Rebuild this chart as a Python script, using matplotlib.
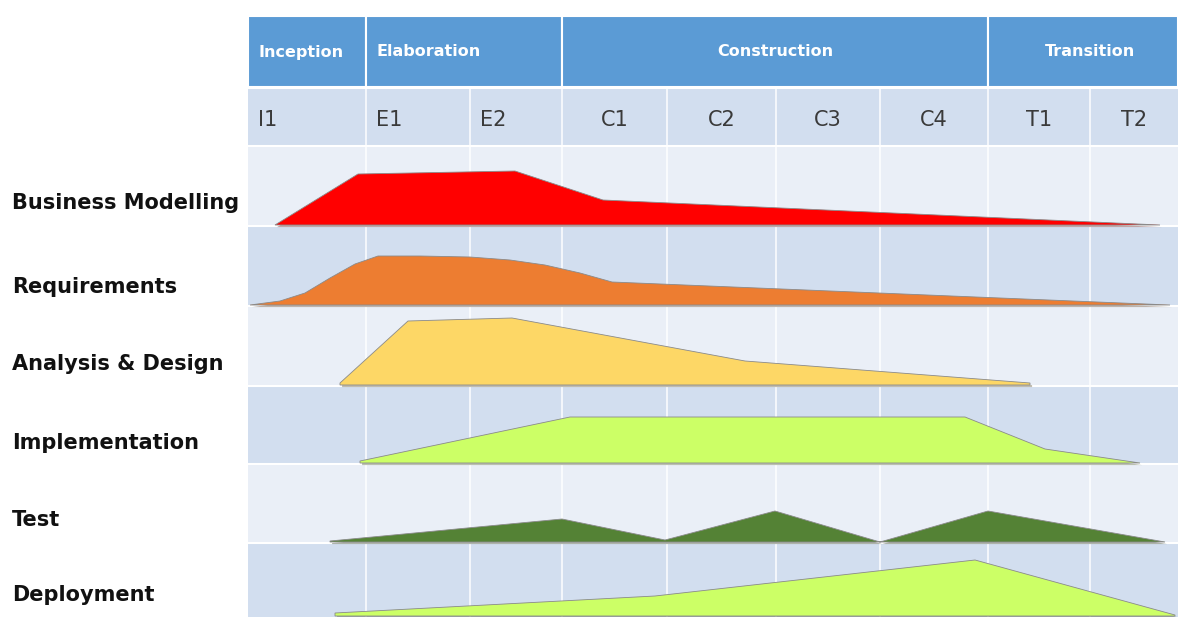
import matplotlib
matplotlib.use("Agg")
import matplotlib.pyplot as plt
from matplotlib.patches import Rectangle, Polygon
import matplotlib.patheffects as pe

# layout of the table, in picture pixels
col_edges = [248, 366, 470, 562, 667, 776, 880, 988, 1090, 1178]
iterations = ["I1", "E1", "E2", "C1", "C2", "C3", "C4", "T1", "T2"]
iter_align = ["left", "left", "left", "center", "center", "center", "center", "center", "center"]

phases = ["Inception", "Elaboration", "Construction", "Transition"]
phase_span = [(0, 1), (1, 3), (3, 7), (7, 9)]
phase_align = ["left", "left", "center", "center"]

workflows = ["Business Modelling", "Requirements", "Analysis & Design",
             "Implementation", "Test", "Deployment"]
row_edges = [146, 226, 306, 386, 464, 543, 617]
label_y = [203, 287, 364, 443, 520, 595]
colors = ["#FF0000", "#ED7D31", "#FDD766", "#CCFF66", "#548235", "#CCFF66"]

# effort profiles: x position and height above the row baseline
bm_x = [275, 358, 515, 603, 1160]
bm_h = [0, 51, 54, 25, 0]
req_x = [250, 280, 305, 330, 355, 378, 420, 470, 510, 545, 580, 612, 1170]
req_h = [0, 4, 12, 27, 41, 49, 49, 48, 45, 40, 32, 23, 0]
ad_x = [340, 408, 512, 745, 1030]
ad_h = [2, 64, 67, 24, 2]
imp_x = [360, 570, 965, 1045, 1140]
imp_h = [2, 46, 46, 14, 0]
test_x = [330, 562, 665, 775, 880, 988, 1165]
test_h = [1, 23, 2, 31, 0, 31, 0]
dep_x = [335, 655, 975, 1175]
dep_h = [3, 20, 56, 1]

profiles = [(bm_x, bm_h), (req_x, req_h), (ad_x, ad_h),
            (imp_x, imp_h), (test_x, test_h), (dep_x, dep_h)]

fig = plt.figure(figsize=(11.78, 6.17), dpi=100)
ax = fig.add_axes([0, 0, 1, 1])
ax.set_xlim(0, 1178)
ax.set_ylim(617, 0)
ax.axis("off")

dark = "#D2DEEF"
light = "#EAEFF7"
blue = "#5B9BD5"

# header with phases
for name, (a, b), al in zip(phases, phase_span, phase_align):
    x0, x1 = col_edges[a], col_edges[b]
    ax.add_patch(Rectangle((x0, 16), x1 - x0, 71, facecolor=blue, edgecolor="white", lw=1.5))
    if al == "left":
        tx = x0 + 10
    elif name == "Transition":
        tx = (x0 + x1) / 2 + 7
    else:
        tx = (x0 + x1) / 2
    ax.text(tx, 52, name, color="white", fontsize=11.5, fontweight="bold",
            ha=al, va="center", family="DejaVu Sans")

# iteration row
ax.add_patch(Rectangle((col_edges[0], 89), col_edges[-1] - col_edges[0], 57,
                       facecolor=dark, edgecolor="none"))
for i, (it, al) in enumerate(zip(iterations, iter_align)):
    x0, x1 = col_edges[i], col_edges[i + 1]
    tx = x0 + 10 if al == "left" else (x0 + x1) / 2
    ax.text(tx, 120, it, color="#3a3a3a", fontsize=15, ha=al, va="center")

# workflow row bands
for i in range(len(workflows)):
    y0, y1 = row_edges[i], row_edges[i + 1]
    ax.add_patch(Rectangle((col_edges[0], y0), col_edges[-1] - col_edges[0], y1 - y0,
                           facecolor=light if i % 2 == 0 else dark, edgecolor="none"))

for x in col_edges[1:-1]:
    ax.plot([x, x], [89, 617], color="white", lw=1.2, alpha=0.9)
for y in [88] + row_edges[:-1]:
    ax.plot([col_edges[0], col_edges[-1]], [y, y], color="white", lw=1.5)

# effort areas
for i, ((xs, hs), c) in enumerate(zip(profiles, colors)):
    base = row_edges[i + 1] - 1
    pts = [(x, base - h) for x, h in zip(xs, hs)] + [(xs[-1], base), (xs[0], base)]
    poly = Polygon(pts, closed=True, facecolor=c, edgecolor="#8a8a8a", lw=0.6, zorder=3)
    poly.set_path_effects([pe.SimplePatchShadow(offset=(1.5, -1.5), alpha=0.35), pe.Normal()])
    ax.add_patch(poly)

for name, y in zip(workflows, label_y):
    ax.text(12, y, name, fontsize=15, fontweight="bold", color="#111111",
            ha="left", va="center", family="DejaVu Sans")

fig.savefig("out.png", dpi=100)
